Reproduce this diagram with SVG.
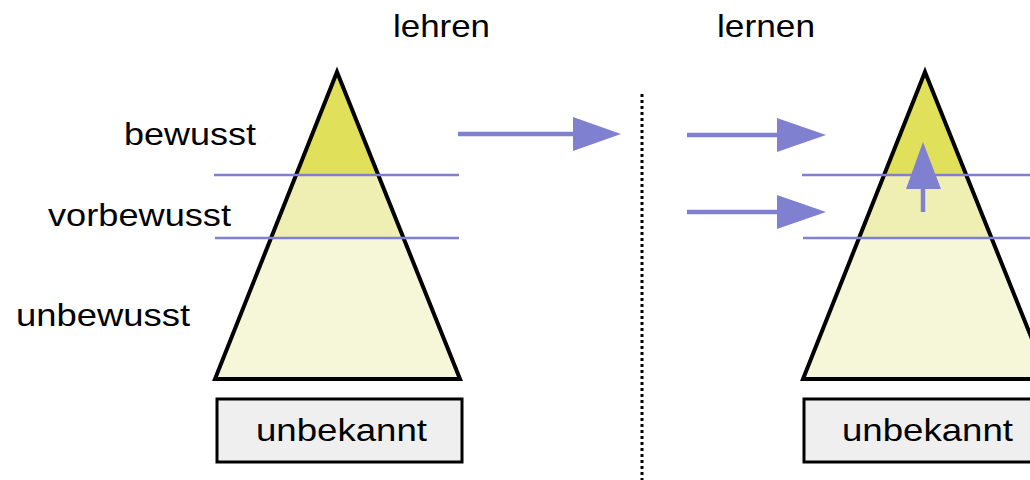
<svg xmlns="http://www.w3.org/2000/svg" width="1030" height="480" viewBox="0 0 1030 480">
  <style>
    text { font-family: "Liberation Sans", Arial, sans-serif; font-size: 32px; fill: #000; }
    .edge { fill: none; stroke: #000; stroke-width: 4; stroke-linejoin: miter; }
    .level { stroke: #8080d0; stroke-width: 2.5; }
    .flow { stroke: #8080d0; stroke-width: 4.5; fill: none; }
    .head { fill: #8080d0; }
    .box { fill: #efefef; stroke: #000; stroke-width: 3; }
    .top { fill: #e1e05a; }
    .mid { fill: #efefb4; }
    .low { fill: #f6f6d8; }
  </style>

  <!-- column titles -->
  <text x="393" y="37" textLength="97" lengthAdjust="spacingAndGlyphs">lehren</text>
  <text x="717" y="37" textLength="98" lengthAdjust="spacingAndGlyphs">lernen</text>

  <!-- level labels -->
  <text x="124" y="145" textLength="132" lengthAdjust="spacingAndGlyphs">bewusst</text>
  <text x="48" y="226" textLength="183" lengthAdjust="spacingAndGlyphs">vorbewusst</text>
  <text x="16" y="326" textLength="174" lengthAdjust="spacingAndGlyphs">unbewusst</text>

  <!-- left pyramid -->
  <g id="pyramid-left">
    <polygon class="low" points="270,238 404,238 460,379 215,379"/>
    <polygon class="mid" points="297,175 377,175 404,238 270,238"/>
    <polygon class="top" points="337,72 377,175 297,175"/>
    <polygon class="edge" points="337,72 460,379 215,379"/>
  </g>
  <g id="box-left">
    <rect class="box" x="217" y="399" width="245" height="63"/>
    <text x="256" y="441" textLength="171" lengthAdjust="spacingAndGlyphs">unbekannt</text>
  </g>

  <!-- right pyramid -->
  <g id="pyramid-right">
    <polygon class="low" points="858,238 992,238 1048,379 803,379"/>
    <polygon class="mid" points="885,175 965,175 992,238 858,238"/>
    <polygon class="top" points="925,72 965,175 885,175"/>
    <polygon class="edge" points="925,72 1048,379 803,379"/>
  </g>
  <g id="box-right">
    <rect class="box" x="804" y="399" width="245" height="63"/>
    <text x="842" y="441" textLength="171" lengthAdjust="spacingAndGlyphs">unbekannt</text>
  </g>

  <!-- level boundaries -->
  <g id="levels">
    <line class="level" x1="214" y1="175" x2="459" y2="175"/>
    <line class="level" x1="215" y1="238" x2="459" y2="238"/>
    <line class="level" x1="802" y1="175" x2="1030" y2="175"/>
    <line class="level" x1="803" y1="238" x2="1030" y2="238"/>
  </g>

  <!-- divider -->
  <line x1="642" y1="94" x2="642" y2="480" stroke="#000" stroke-width="3" stroke-dasharray="3,3"/>

  <!-- connectors -->
  <g id="connectors">
    <line class="flow" x1="458" y1="134" x2="575" y2="134"/>
    <polygon class="head" points="573,117 621,134 573,151"/>

    <line class="flow" x1="687" y1="135" x2="780" y2="135"/>
    <polygon class="head" points="777,118 826,135 777,152"/>

    <line class="flow" x1="687" y1="212" x2="780" y2="212"/>
    <polygon class="head" points="777,195 826,212 777,229"/>

    <line class="flow" x1="923" y1="212" x2="923" y2="186"/>
    <polygon class="head" points="906,189 923,142 941,189"/>
  </g>
</svg>
